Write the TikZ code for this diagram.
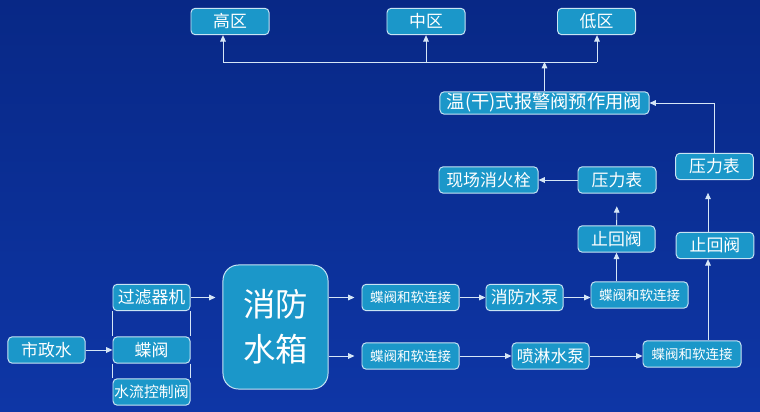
\documentclass[tikz,border=0pt]{standalone}
\usepackage{fontspec}
\usepackage{tikz}
\usetikzlibrary{arrows.meta}
\newfontfamily\cjk{Noto Sans CJK SC}
\definecolor{bgtop}{HTML}{082886}
\definecolor{bgbot}{HTML}{0E36A6}
\definecolor{boxfill}{HTML}{1B97C9}
\definecolor{boxedge}{HTML}{C8E4F4}
\definecolor{pipe}{HTML}{D6E6F6}
\tikzset{
  box/.style={draw=boxedge, line width=0.7pt, fill=boxfill, rounded corners=3pt,
    text=white, inner sep=0pt, minimum height=0.66cm,
    font=\cjk\fontsize{12}{12}\selectfont},
  smallbox/.style={box, font=\cjk\fontsize{9.6}{10}\selectfont},
  flow/.style={draw=pipe, line width=0.6pt, -{Triangle[length=4.5pt,width=4pt]}},
  pipeline/.style={draw=pipe, line width=0.6pt}
}

\begin{document}
\begin{tikzpicture}[x=0.025cm, y=-0.025cm]
			%%%%% BACKGROUND %%%%%
			\shade[top color=bgtop, bottom color=bgbot] (0, 0) rectangle (760, 412);
			\useasboundingbox (0, 0) rectangle (760, 412);
			
			%%%%% ZONES %%%%%
			\node[box, minimum width=1.95cm] (high) at (230, 21.5) {高区};
			\node[box, minimum width=1.95cm] (mid) at (426, 21.5) {中区};
			\node[box, minimum width=1.95cm] (low) at (596.5, 21.5) {低区};
			
			\node[box, minimum width=5.225cm, minimum height=0.56cm,
			      font=\cjk\fontsize{13}{13}\selectfont] (alarm) at (544.5, 103) {温(干)式报警阀预作用阀};
			
			%%%%% RISERS %%%%%
			\node[box, minimum width=1.94cm] (gaugeR) at (714.5, 166.5) {压力表};
			\node[box, minimum width=1.94cm] (checkR) at (715, 245.5) {止回阀};
			
			\node[box, minimum width=2.475cm] (hydrant) at (488.5, 180) {现场消火栓};
			\node[box, minimum width=1.95cm] (gaugeL) at (617, 180) {压力表};
			\node[box, minimum width=1.925cm] (checkL) at (616.5, 239) {止回阀};
			
			%%%%% INLET %%%%%
			\node[box, minimum width=1.925cm] (city) at (46.5, 350) {市政水};
			\node[box, minimum width=1.925cm] (filter) at (151.5, 297.5) {过滤器机};
			\node[box, minimum width=1.925cm] (valve) at (151.5, 350) {蝶阀};
			\node[box, minimum width=1.925cm, font=\cjk\fontsize{10.6}{11}\selectfont] (control) at (151.5, 392) {水流控制阀};
			
			\node[box, minimum width=2.625cm, minimum height=3.1cm, rounded corners=11pt,
			      align=center, font=\cjk\fontsize{23}{32}\selectfont] (tank) at (275.5, 327) {消防\\水箱};
			
			%%%%% PUMPS %%%%%
			\node[smallbox, minimum width=2.425cm] (soft1) at (410.5, 297.5) {蝶阀和软连接};
			\node[box, minimum width=1.925cm] (firepump) at (524.5, 297.5) {消防水泵};
			\node[smallbox, minimum width=2.425cm] (soft2) at (639.5, 295) {蝶阀和软连接};
			
			\node[smallbox, minimum width=2.425cm] (soft3) at (410.5, 356) {蝶阀和软连接};
			\node[box, minimum width=1.925cm] (spraypump) at (550.5, 356) {喷淋水泵};
			\node[smallbox, minimum width=2.45cm] (soft4) at (692, 354) {蝶阀和软连接};
			
			\coordinate (busL) at (223, 62);
			\coordinate (busM) at (426, 62);
			\coordinate (busR) at (597, 62);
			\coordinate (riser) at (708, 0);
			
			%%%%% CONNECTORS %%%%%
			\draw[flow] (city) -- (valve);
			\draw[pipeline] (filter.south west) -- (valve.north west);
			\draw[pipeline] (valve.south west) -- (control.north west);
			\draw[pipeline] (filter.south east) -- (valve.north east);
			\draw[pipeline] (valve.south east) -- (control.north east);
			\draw[flow, shorten >=5] (filter.east) -- (tank.west |- filter.east);
			
			\draw[flow, shorten >=5] (tank.east |- soft1.west) -- (soft1.west);
			\draw[flow] (soft1) -- (firepump);
			\draw[flow] (firepump) -- (soft2.west |- firepump);
			\draw[flow, shorten >=5] (tank.east |- soft3.west) -- (soft3.west);
			\draw[flow] (soft3) -- (spraypump);
			\draw[flow] (spraypump) -- (soft4.west |- spraypump);
			
			\draw[flow] (checkL.south |- soft2.north) -- (checkL.south);
			\draw[flow, shorten >=9] (checkL) -- (gaugeL);
			\draw[flow] (gaugeL) -- (hydrant);
			
			\draw[flow] (riser |- soft4.north) -- (riser |- checkR.south);
			\draw[flow, shorten >=9] (riser |- checkR.north) -- (riser |- gaugeR.south);
			\draw[flow] (gaugeR.north) |- (alarm.east);
			
			\draw[flow] (alarm.north) -- (alarm.north |- busL);
			\draw[pipeline] (busL) -- (busR);
			\draw[flow] (busL) -- (busL |- high.south);
			\draw[flow] (busM) -- (mid.south);
			\draw[flow] (busR) -- (busR |- low.south);
			
		\end{tikzpicture}
\end{document}
